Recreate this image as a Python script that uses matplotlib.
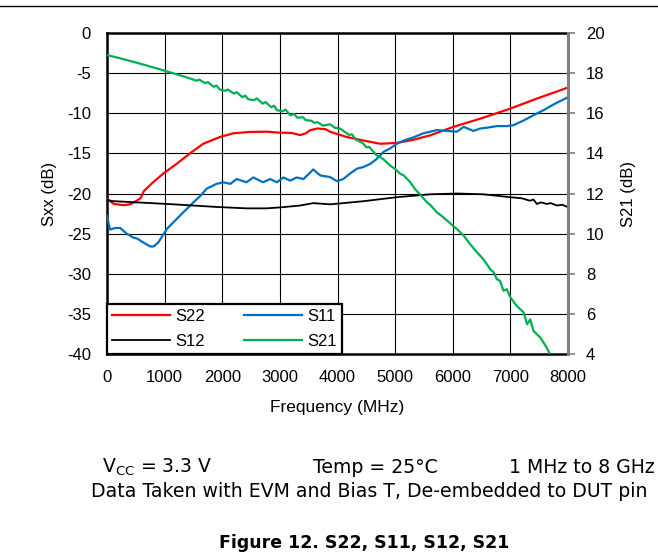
import matplotlib
matplotlib.use("Agg")
import matplotlib.pyplot as plt
from matplotlib.lines import Line2D

plt.rcParams['font.family'] = ['Liberation Sans', 'DejaVu Sans']
plt.rcParams['axes.unicode_minus'] = False

# ---- data ----
f_s22 = [0, 60, 120, 290, 400, 470, 580, 640, 800, 980, 1210, 1440, 1670, 1960, 2190, 2480,
         2770, 3000, 3200, 3350, 3450, 3530, 3650, 3800, 3870, 4160, 4450, 4740, 5030, 5320,
         5610, 6010, 6480, 7000, 7460, 8000]
s22 = [-20.67, -21.0, -21.3, -21.45, -21.35, -21.1, -20.6, -19.7, -18.6, -17.5, -16.3, -15.0,
       -13.8, -12.96, -12.5, -12.33, -12.30, -12.42, -12.45, -12.72, -12.5, -12.1, -11.9, -12.0,
       -12.3, -12.96, -13.4, -13.8, -13.7, -13.3, -12.75, -11.7, -10.67, -9.42, -8.17, -6.8]

f_s11 = [0, 30, 55, 140, 230, 340, 460, 520, 630, 750, 810, 890, 1040, 1150, 1330, 1500, 1620,
         1730, 1900, 2020, 2140, 2250, 2420, 2540, 2710, 2830, 2950, 3060, 3180, 3290, 3410,
         3580, 3700, 3870, 3990, 4100, 4220, 4340, 4450, 4570, 4680, 4800, 4910, 5030, 5150,
         5320, 5490, 5610, 5720, 5900, 6070, 6190, 6360, 6480, 6590, 6770, 6940, 7050, 7230,
         7400, 7580, 7750, 8000]
s11 = [-22.75, -23.8, -24.5, -24.3, -24.3, -25.0, -25.5, -25.6, -26.1, -26.6, -26.6, -26.1,
       -24.4, -23.6, -22.3, -21.1, -20.3, -19.4, -18.8, -18.6, -18.8, -18.2, -18.6, -18.0,
       -18.6, -18.2, -18.6, -18.0, -18.4, -18.0, -18.2, -17.0, -17.75, -17.95, -18.46, -18.2,
       -17.5, -16.9, -16.7, -16.3, -15.7, -14.8, -14.4, -13.8, -13.4, -13.0, -12.5, -12.3,
       -12.1, -12.2, -12.3, -11.7, -12.2, -11.9, -11.8, -11.6, -11.6, -11.5, -10.9, -10.25,
       -9.6, -8.9, -8.0]

f_s12 = [0, 100, 500, 1040, 1500, 1960, 2420, 2770, 3060, 3350, 3580, 3870, 4100, 4450, 5030,
         5610, 6070, 6530, 7000, 7200, 7340, 7400, 7460, 7530, 7630, 7700, 7810, 7900, 8000]
s12 = [-20.8, -20.95, -21.1, -21.3, -21.5, -21.7, -21.85, -21.85, -21.7, -21.5, -21.2, -21.35,
       -21.2, -20.96, -20.46, -20.1, -20.0, -20.1, -20.46, -20.6, -20.9, -20.75, -21.3, -21.1,
       -21.3, -21.2, -21.5, -21.4, -21.7]

f_s21 = [0, 200, 450, 700, 1000, 1200, 1450, 1550, 1600, 1700, 1750, 1850, 1900, 1960, 2050,
         2100, 2200, 2250, 2350, 2400, 2450, 2550, 2600, 2700, 2750, 2850, 2900, 2950, 3050,
         3100, 3180, 3250, 3300, 3400, 3450, 3550, 3600, 3650, 3750, 3870, 3950, 4050, 4100,
         4200, 4250, 4320, 4400, 4450, 4500, 4550, 4680, 4750, 4800, 4910, 5000, 5090, 5150,
         5260, 5350, 5450, 5550, 5620, 5720, 5800, 5900, 6070, 6190, 6300, 6420, 6530, 6650,
         6710, 6765, 6820, 6880, 6940, 7000, 7110, 7230, 7290, 7345, 7400, 7520, 7630, 7690]
s21 = [18.90, 18.76, 18.57, 18.37, 18.12, 17.95, 17.73, 17.62, 17.68, 17.50, 17.55, 17.32,
       17.38, 17.18, 17.12, 17.18, 16.98, 17.05, 16.80, 16.88, 16.70, 16.65, 16.74, 16.48,
       16.56, 16.30, 16.38, 16.15, 16.10, 16.18, 15.90, 15.96, 15.78, 15.80, 15.66, 15.62,
       15.52, 15.56, 15.38, 15.45, 15.28, 15.23, 15.12, 14.92, 14.95, 14.68, 14.57, 14.48,
       14.30, 14.32, 13.90, 13.80, 13.70, 13.40, 13.22, 12.98, 12.90, 12.57, 12.20, 11.90,
       11.57, 11.40, 11.07, 10.90, 10.65, 10.23, 9.90, 9.48, 9.07, 8.73, 8.23, 8.07, 7.73,
       7.65, 7.15, 7.23, 6.82, 6.40, 6.07, 5.48, 5.73, 5.15, 4.82, 4.32, 3.98]

x_ticks = [0, 1000, 2000, 3000, 4000, 5000, 6000, 7000, 8000]
left_ticks = [0, -5, -10, -15, -20, -25, -30, -35, -40]
right_ticks = [4, 6, 8, 10, 12, 14, 16, 18, 20]

RED = '#FF0000'
BLUE = '#0070C0'
BLACK = '#000000'
GREEN = '#00B050'

W, H = 658, 560
fig = plt.figure(figsize=(W/100, H/100), dpi=100)
ax = fig.add_axes([107/W, 1-354/H, (568-107)/W, (354-33)/H])

ax.plot(f_s22, s22, color=RED, lw=1.6, zorder=3)
ax.plot(f_s11, s11, color=BLUE, lw=1.6, zorder=3)
ax.plot(f_s12, s12, color=BLACK, lw=1.3, zorder=3)

ax.set_xlim(0, 8000)
ax.set_ylim(-40, 0)
ax.set_xticks(x_ticks)
ax.set_yticks(left_ticks)
ax.set_xticklabels([str(v) for v in x_ticks])
ax.set_yticklabels([str(v) for v in left_ticks])
ax.grid(True, color='black', lw=0.8, zorder=0)
ax.set_axisbelow(True)
ax.tick_params(axis='both', length=0, labelsize=12)
ax.tick_params(axis='y', pad=11.5)
ax.tick_params(axis='x', pad=11.5)
for s in ['left', 'top', 'bottom']:
    ax.spines[s].set_linewidth(1.8)
    ax.spines[s].set_color('black')
ax.spines['right'].set_visible(False)
ax.set_ylabel('Sxx (dB)', fontsize=12, labelpad=7)
ax.set_xlabel('Frequency (MHz)', fontsize=12.5, labelpad=11)

ax2 = ax.twinx()
ax2.plot(f_s21, s21, color=GREEN, lw=1.6, zorder=3)
ax2.set_ylim(4, 20)
ax2.set_yticks(right_ticks)
ax2.set_yticklabels([str(v) for v in right_ticks])
ax2.tick_params(axis='y', length=5, width=1.2, color='#808080', labelsize=12, pad=8, direction='out')
for s in ['left', 'top', 'bottom']:
    ax2.spines[s].set_visible(False)
ax2.spines['right'].set_color('#808080')
ax2.spines['right'].set_linewidth(2.2)
ax2.set_ylabel('S21 (dB)', fontsize=12, labelpad=12)

# legend: columns filled top-to-bottom, so order gives rows S22,S11 / S12,S21
handles = [Line2D([], [], color=RED, lw=1.6), Line2D([], [], color=BLACK, lw=1.3),
           Line2D([], [], color=BLUE, lw=1.6), Line2D([], [], color=GREEN, lw=1.6)]
labels = ['S22', 'S12', 'S11', 'S21']
leg = ax2.legend(handles, labels, ncol=2, loc='lower left',
                 bbox_to_anchor=(0, 0, (342-107)/461, 0.2), mode='expand',
                 fontsize=12, handlelength=3.5, handletextpad=0.3, columnspacing=1.0,
                 borderpad=0.3, labelspacing=0.6, fancybox=False, framealpha=1,
                 edgecolor='black', borderaxespad=0)
leg.get_frame().set_linewidth(1.6)
leg.set_zorder(10)

# top rule
fig.add_artist(Line2D([0, 1], [1-6/H, 1-6/H], color='black', lw=1.0, transform=fig.transFigure))

WIDE = ['DejaVu Sans']
fig.text(102/W, 1-473/H, r'V$_{\mathregular{CC}}$ = 3.3 V', fontsize=13.6, va='baseline', ha='left', family=WIDE)
fig.text(313/W, 1-473/H, 'Temp = 25°C', fontsize=13.6, va='baseline', ha='left', family=WIDE)
fig.text(655/W, 1-473/H, '1 MHz to 8 GHz', fontsize=13.6, va='baseline', ha='right', family=WIDE)
fig.text(369/W, 1-497/H, 'Data Taken with EVM and Bias T, De-embedded to DUT pin',
         fontsize=13.6, va='baseline', ha='center', family=WIDE)
fig.text(364/W, 1-548/H, 'Figure 12. S22, S11, S12, S21', fontsize=12.5, fontweight='bold',
         va='baseline', ha='center', family=WIDE)

fig.savefig('out.png', dpi=100)
